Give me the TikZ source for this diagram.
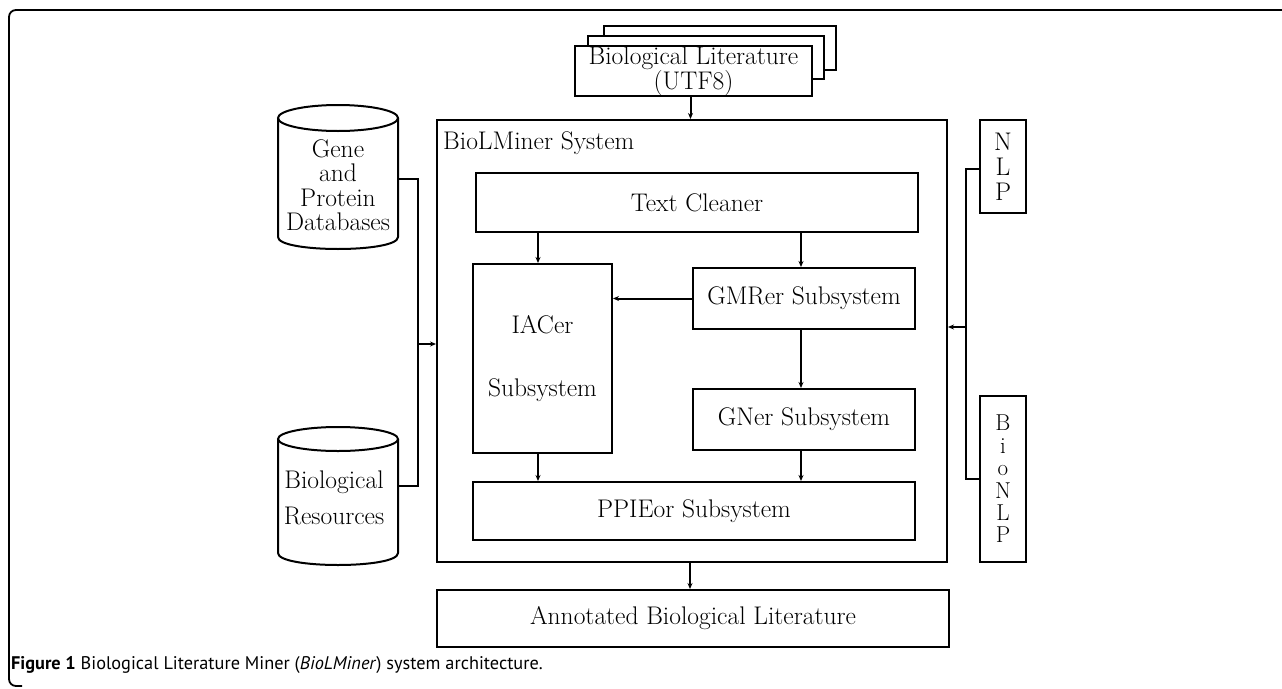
\documentclass[tikz,border=0pt]{standalone}
\usepackage{fontspec}
\newfontfamily\capfont{PT Sans}
\usetikzlibrary{arrows.meta}
\tikzset{
  box/.style={draw, line width=2pt, rectangle, inner sep=0pt, align=center, fill=white},
  plain/.style={inner sep=0pt, align=center},
  arr/.style={line width=2pt, -{Stealth[length=6pt,width=5pt]}},
  wire/.style={line width=2pt},
  shapeline/.style={line width=2pt}
}
\begin{document}
\begin{tikzpicture}[x=1pt,y=-1pt, font=\fontsize{25.5}{24}\selectfont]
\useasboundingbox (0,0) rectangle (1282,688);
% outer frame
\draw[line width=1.8pt, rounded corners=7pt] (1290,10) -- (9,10) -- (9,686) -- (22,686);
% stacked literature documents
\node[box, minimum width=232pt, minimum height=44pt] (lit3) at (720,48) {};
\node[box, minimum width=236pt, minimum height=43pt] (lit2) at (706,57.5) {};
\node[box, minimum width=237pt, minimum height=40pt, font=\fontsize{25.5}{18}\selectfont] (lit1) at (693.5,71) {Biological Literature\\(UTF8)};
% system box
\node[box, fill=none, minimum width=510pt, minimum height=442pt] (sys) at (692,341) {};
\node[plain, anchor=west] (syslabel) at (443,143) {BioLMiner System};
\node[box, minimum width=442pt, minimum height=59pt] (clean) at (697,202.5) {Text Cleaner};
\node[box, minimum width=139pt, minimum height=189pt, font=\fontsize{25.5}{63}\selectfont] (iacer) at (542.5,358.5) {IACer\\Subsystem};
\node[box, minimum width=222pt, minimum height=61pt] (gmr) at (804,298.5) {GMRer Subsystem};
\node[box, minimum width=222pt, minimum height=61pt] (gner) at (804,419.5) {GNer Subsystem};
\node[box, minimum width=442pt, minimum height=58pt] (ppi) at (694,511) {PPIEor Subsystem};
\node[box, minimum width=512pt, minimum height=57pt] (ann) at (693,618.5) {Annotated Biological Literature};
% NLP boxes
\node[box, minimum width=46pt, minimum height=93pt, font=\fontsize{25.5}{25}\selectfont] (nlp) at (1003,166.5) {N\\L\\P};
\node[box, minimum width=46pt, minimum height=166pt, font=\fontsize{23}{22.4}\selectfont] (bionlp) at (1003,479) {B\\i\\o\\N\\L\\P};
% cylinders
\node[plain, minimum width=120pt, minimum height=144pt] (gene) at (338,177) {};
\draw[shapeline] (338,118) ellipse [x radius=60, y radius=13];
\draw[shapeline] (278,118) -- (278,237) .. controls (278,253) and (398,253) .. (398,237) -- (398,118);
\node[plain, font=\fontsize{25.5}{24.5}\selectfont] (genetxt) at (338,185) {Gene\\and\\Protein\\Databases};
\node[plain, minimum width=120pt, minimum height=138pt] (res) at (338,496) {};
\draw[shapeline] (338,439) ellipse [x radius=60, y radius=12];
\draw[shapeline] (278,439) -- (278,553) .. controls (278,569) and (398,569) .. (398,553) -- (398,439);
\node[plain, font=\fontsize{25.5}{36}\selectfont] (restxt) at (334,498) {Biological\\Resources};
% connectors
\coordinate (lbus) at (418,344);
\coordinate (rbus) at (966,327);
\draw[wire] ([yshift=-2pt]gene.east) -| (lbus) |- ([yshift=10pt]res.east);
\draw[arr] (lbus) -- (lbus -| sys.west);
\draw[wire] ([yshift=-2pt]nlp.west) -| (rbus) |- (bionlp.west);
\draw[arr] (rbus) -- (rbus -| sys.east);
\draw[arr] ([xshift=-3pt]lit1.south) -- ([xshift=-3pt]lit1.south |- sys.north);
\draw[arr] ([xshift=-4.5pt]iacer.north |- clean.south) -- ([xshift=-4.5pt]iacer.north);
\draw[arr] ([xshift=-3pt]gmr.north |- clean.south) -- ([xshift=-3pt]gmr.north);
\draw[arr] (gmr.west) -- (gmr.west -| iacer.east);
\draw[arr] ([xshift=-3pt]gmr.south) -- ([xshift=-3pt]gner.north);
\draw[arr] ([xshift=-4.5pt]iacer.south) -- ([xshift=-4.5pt]iacer.south |- ppi.north);
\draw[arr] ([xshift=-3pt]gner.south) -- ([xshift=-3pt]gner.south |- ppi.north);
\draw[arr] ([xshift=-2pt]sys.south) -- ([xshift=-2pt]sys.south |- ann.north);
% caption
\node[plain, anchor=west, font=\capfont\fontsize{18.3}{20}\selectfont] (caption) at (11,665) {\textbf{Figure 1} Biological Literature Miner (\textit{BioLMiner}) system architecture.};
\end{tikzpicture}
\end{document}
